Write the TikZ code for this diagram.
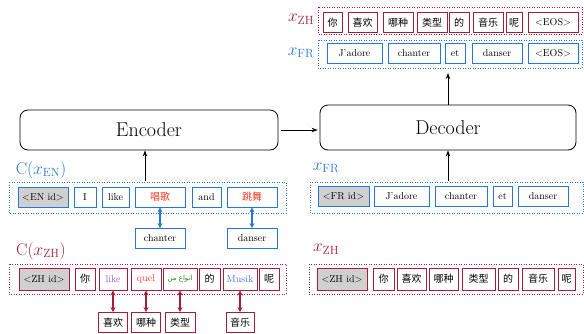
\documentclass[tikz,border=0pt]{standalone}
\usepackage{fontspec}
\usepackage{tikz}
\usetikzlibrary{arrows.meta,positioning}
\newfontfamily\zh{Noto Sans CJK SC}
\newfontfamily\arabicfont[Script=Arabic]{DejaVu Sans}
\TeXXeTstate=1
\definecolor{enblue}{RGB}{38,118,212}
\definecolor{zhred}{RGB}{164,30,58}
\definecolor{idgray}{RGB}{208,208,208}
\definecolor{hired}{RGB}{245,58,38}
\definecolor{hipurple}{RGB}{140,96,196}
\definecolor{higreen}{RGB}{40,140,40}
\definecolor{hiblue}{RGB}{64,120,224}
\tikzstyle{coder}   = [draw, rounded corners=8pt, line width=0.8pt, font=\fontsize{20}{24}\selectfont]
\tikzstyle{tokEN}   = [draw=enblue, line width=0.9pt, fill=white, minimum height=20pt, inner sep=0pt, font=\fontsize{10}{12}\selectfont]
\tikzstyle{tokZH}   = [draw=zhred, line width=0.9pt, fill=white, minimum height=20pt, inner sep=0pt, font=\fontsize{10}{12}\selectfont]
\tikzstyle{idtok}   = [fill=idgray]
\tikzstyle{frameEN} = [draw=enblue, line width=0.9pt, dash pattern=on 0.9pt off 1.6pt]
\tikzstyle{frameZH} = [draw=zhred, line width=0.9pt, dash pattern=on 0.9pt off 1.6pt]
\tikzstyle{lbl}     = [inner sep=0pt, font=\fontsize{17}{19}\selectfont]
\tikzstyle{arrow}   = [line width=0.9pt, -{Stealth[length=6pt,width=4.5pt]}]
\tikzstyle{dblEN}   = [enblue, line width=1.3pt, {Stealth[length=5pt,width=5pt]}-{Stealth[length=5pt,width=5pt]}]
\tikzstyle{dblZH}   = [zhred, line width=1.3pt, {Stealth[length=5pt,width=5pt]}-{Stealth[length=5pt,width=5pt]}]

\begin{document}
\begin{tikzpicture}[x=1pt,y=-1pt]
	\useasboundingbox (0,0) rectangle (584,333);

	% encoder / decoder
	\node[coder, minimum width=258pt, minimum height=40pt] (enc) at (149,130) {Encoder};
	\node[coder, minimum width=256pt, minimum height=45pt] (dec) at (448,127.5) {Decoder};
	\draw[arrow, shorten <=3pt, shorten >=2pt] (enc.east) -- (enc.east -| dec.west);

	% decoder output
	\node[lbl, zhred] (ozhl) at (301,19) {$x_{\mathrm{ZH}}$};
	\draw[frameZH] (318,7) rectangle (582,34);
	\node[tokZH, minimum width=19pt] (oz1) at (332.5,22.5) {\zh 你};
	\node[tokZH, minimum width=29pt] (oz2) at (362.5,22.5) {\zh 喜欢};
	\node[tokZH, minimum width=30pt] (oz3) at (398,22.5) {\zh 哪种};
	\node[tokZH, minimum width=30pt] (oz4) at (432,22.5) {\zh 类型};
	\node[tokZH, minimum width=20pt] (oz5) at (459,22.5) {\zh 的};
	\node[tokZH, minimum width=30pt] (oz6) at (488,22.5) {\zh 音乐};
	\node[tokZH, minimum width=16pt] (oz7) at (514,22.5) {\zh 呢};
	\node[tokZH, minimum width=50pt] (oz8) at (553,22.5) {<EOS>};

	\node[lbl, enblue] (ofrl) at (301,53) {$x_{\mathrm{FR}}$};
	\draw[frameEN] (318,40) rectangle (582,68);
	\node[tokEN, minimum width=55pt] (of1) at (354.5,53.5) {J'adore};
	\node[tokEN, minimum width=52pt] (of2) at (414,53.5) {chanter};
	\node[tokEN, minimum width=20pt] (of3) at (455,53.5) {et};
	\node[tokEN, minimum width=50pt] (of4) at (497,53.5) {danser};
	\node[tokEN, minimum width=50pt] (of5) at (553,53.5) {<EOS>};
	\coordinate (frout) at (448,73);
	\draw[arrow] (dec.north -| frout) -- (frout);

	% encoder input, EN
	\node[lbl, enblue] (enl) at (41,170) {$\mathrm{C}(x_{\mathrm{EN}})$};
	\draw[frameEN] (9,182) rectangle (286,213);
	\node[tokEN, idtok, minimum width=50pt] (te1) at (43,197) {<EN id>};
	\node[tokEN, minimum width=22pt] (te2) at (85,197) {I};
	\node[tokEN, minimum width=27pt] (te3) at (115.5,197) {like};
	\node[tokEN, minimum width=50pt, text=hired] (te4) at (160,197) {\zh 唱歌};
	\node[tokEN, minimum width=29pt] (te5) at (206.5,197) {and};
	\node[tokEN, minimum width=50pt, text=hired] (te6) at (252,197) {\zh 跳舞};
	\node[tokEN, minimum width=50pt] (ch) at (160,238.5) {chanter};
	\node[tokEN, minimum width=50pt] (da) at (252,238.5) {danser};
	\draw[dblEN] (te4.south) -- (ch.north);
	\draw[dblEN] (te6.south) -- (da.north);
	\coordinate (enin) at (145,181);
	\draw[arrow] (enin) -- (enin |- enc.south);

	% encoder input, ZH
	\node[lbl, zhred] (zhl) at (41,251) {$\mathrm{C}(x_{\mathrm{ZH}})$};
	\draw[frameZH] (9,264) rectangle (286,294);
	\node[tokZH, idtok, minimum width=50pt, minimum height=22pt] (tz1) at (44,279) {<ZH id>};
	\node[tokZH, minimum width=20pt, minimum height=22pt] (tz2) at (85,279) {\zh 你};
	\node[tokZH, minimum width=28pt, minimum height=22pt, text=hipurple] (tz3) at (113,279) {like};
	\node[tokZH, minimum width=30pt, minimum height=22pt, text=hired] (tz4) at (146,279) {quel};
	\node[tokZH, minimum width=34pt, minimum height=22pt, text=higreen, font=\fontsize{7}{9}\selectfont] (tz5) at (180,279) {\arabicfont\beginR انواع من\endR};
	\node[tokZH, minimum width=21pt, minimum height=22pt] (tz6) at (209.5,279) {\zh 的};
	\node[tokZH, minimum width=34pt, minimum height=22pt, text=hiblue] (tz7) at (240,279) {Musik};
	\node[tokZH, minimum width=20pt, minimum height=22pt] (tz8) at (269,279) {\zh 呢};
	\node[tokZH, minimum width=29pt] (b1) at (113,322.5) {\zh 喜欢};
	\node[tokZH, minimum width=29pt] (b2) at (146,322.5) {\zh 哪种};
	\node[tokZH, minimum width=30pt] (b3) at (180,322.5) {\zh 类型};
	\node[tokZH, minimum width=28pt] (b4) at (240,322.5) {\zh 音乐};
	\draw[dblZH] (tz3.south) -- (b1.north);
	\draw[dblZH] (tz4.south) -- (b2.north);
	\draw[dblZH] (tz5.south) -- (b3.north);
	\draw[dblZH] (tz7.south) -- (b4.north);

	% decoder input, FR
	\node[lbl, enblue] (frl) at (326,168) {$x_{\mathrm{FR}}$};
	\draw[frameEN] (310,182) rectangle (583,213);
	\node[tokEN, idtok, minimum width=51pt] (tf1) at (343.5,196) {<FR id>};
	\node[tokEN, minimum width=55pt] (tf2) at (401.5,196) {J'adore};
	\node[tokEN, minimum width=52pt] (tf3) at (461,196) {chanter};
	\node[tokEN, minimum width=19pt] (tf4) at (502.5,196) {et};
	\node[tokEN, minimum width=50pt] (tf5) at (543,196) {danser};
	\coordinate (frin) at (448,181);
	\draw[arrow] (frin) -- (frin |- dec.south);

	% decoder input, ZH
	\node[lbl, zhred] (zhrl) at (326,249) {$x_{\mathrm{ZH}}$};
	\draw[frameZH] (309,264) rectangle (583,294);
	\node[tokZH, idtok, minimum width=50pt, minimum height=22pt] (tr1) at (342,279) {<ZH id>};
	\node[tokZH, minimum width=21pt, minimum height=22pt] (tr2) at (383.5,279) {\zh 你};
	\node[tokZH, minimum width=29pt, minimum height=22pt] (tr3) at (411.5,279) {\zh 喜欢};
	\node[tokZH, minimum width=29pt, minimum height=22pt] (tr4) at (443.5,279) {\zh 哪种};
	\node[tokZH, minimum width=33pt, minimum height=22pt] (tr5) at (478.5,279) {\zh 类型};
	\node[tokZH, minimum width=20pt, minimum height=22pt] (tr6) at (508,279) {\zh 的};
	\node[tokZH, minimum width=32pt, minimum height=22pt] (tr7) at (538,279) {\zh 音乐};
	\node[tokZH, minimum width=17pt, minimum height=22pt] (tr8) at (566.5,279) {\zh 呢};
\end{tikzpicture}
\end{document}
